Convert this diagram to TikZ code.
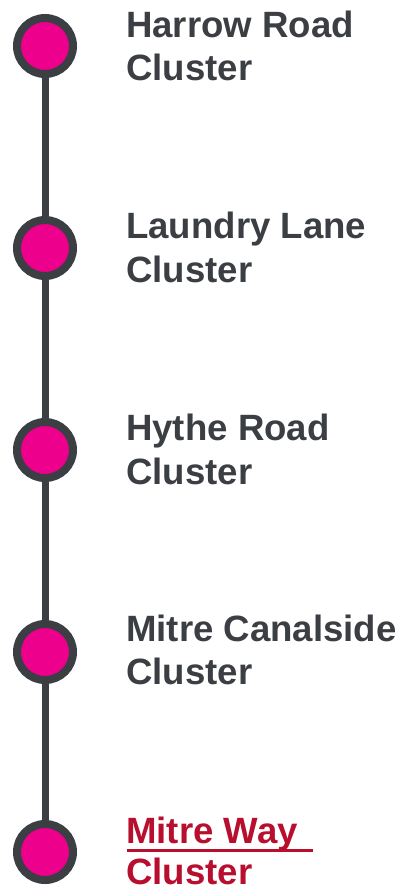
\documentclass[tikz,border=0pt]{standalone}
\usepackage{fontspec}
\setmainfont{Liberation Sans}
\definecolor{darkgrey}{HTML}{3B3E43}
\definecolor{hotpink}{HTML}{EC008C}
\definecolor{linkred}{HTML}{B80F2F}
\begin{document}
\begin{tikzpicture}[x=1pt,y=-1pt,
  stop/.style={circle,draw=darkgrey,fill=hotpink,line width=8pt,minimum size=56pt,inner sep=0pt},
  stem/.style={draw=darkgrey,line width=7pt},
  label/.style={anchor=base west,inner sep=0pt,font=\fontsize{36.6}{44}\selectfont\bfseries,text=darkgrey},
  current/.style={label,text=linkred}]
\useasboundingbox (0,0) rectangle (403,892);
\node[stop] (c1) at (45,46) {};
\node[stop] (c2) at (45,248) {};
\node[stop] (c3) at (45,450) {};
\node[stop] (c4) at (45,652) {};
\node[stop] (c5) at (45,852) {};
\draw[stem] (c1) -- (c2);
\draw[stem] (c2) -- (c3);
\draw[stem] (c3) -- (c4);
\draw[stem] (c4) -- (c5);
\node[label] (t1a) at (126,37) {Harrow Road};
\node[label] (t1b) at (126,80) {Cluster};
\node[label] (t2a) at (126,238) {Laundry Lane};
\node[label] (t2b) at (126,282) {Cluster};
\node[label] (t3a) at (126,440) {Hythe Road};
\node[label] (t3b) at (126,484) {Cluster};
\node[label] (t4a) at (126,641) {Mitre Canalside};
\node[label] (t4b) at (126,684) {Cluster};
\node[current] (t5a) at (126,843) {Mitre Way};
\node[current] (t5b) at (126,884) {Cluster};
\draw[linkred,line width=3pt] (127,850) -- (313,850);
\end{tikzpicture}
\end{document}
